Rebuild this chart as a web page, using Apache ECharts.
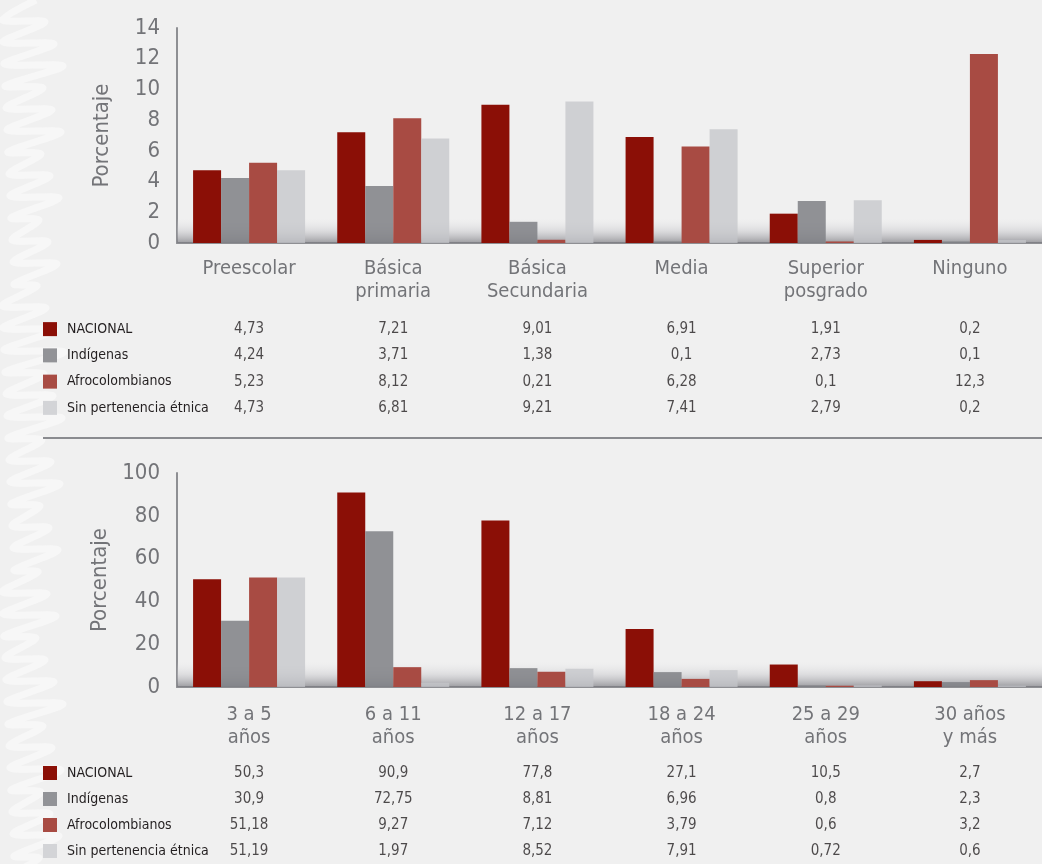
<!DOCTYPE html>
<html>
<head>
<meta charset="utf-8">
<script src="https://cdn.jsdelivr.net/npm/echarts@6/dist/echarts.min.js"></script>
<style>
  html, body { margin: 0; padding: 0; background: #f0f0f0; }
  #chart { width: 1042px; height: 864px; }
</style>
</head>
<body>
<div id="chart"></div>
<script>
// categorias y grupos
const eduCategories = ["Preescolar", "Básica\nprimaria", "Básica\nSecundaria", "Media", "Superior\nposgrado", "Ninguno"];
const ageCategories = ["3 a 5\naños", "6 a 11\naños", "12 a 17\naños", "18 a 24\naños", "25 a 29\naños", "30 años\ny más"];
const groups = ["NACIONAL", "Indígenas", "Afrocolombianos", "Sin pertenencia étnica"];

// nivel educativo (%)
const eduNacional = [4.73, 7.21, 9.01, 6.91, 1.91, 0.2];
const eduIndigenas = [4.24, 3.71, 1.38, 0.1, 2.73, 0.1];
const eduAfro = [5.23, 8.12, 0.21, 6.28, 0.1, 12.3];
const eduSin = [4.73, 6.81, 9.21, 7.41, 2.79, 0.2];

// grupos de edad (%)
const ageNacional = [50.3, 90.9, 77.8, 27.1, 10.5, 2.7];
const ageIndigenas = [30.9, 72.75, 8.81, 6.96, 0.8, 2.3];
const ageAfro = [51.18, 9.27, 7.12, 3.79, 0.6, 3.2];
const ageSin = [51.19, 1.97, 8.52, 7.91, 0.72, 0.6];

const eduData = [eduNacional, eduIndigenas, eduAfro, eduSin];
const ageData = [ageNacional, ageIndigenas, ageAfro, ageSin];

const FONT = '"Liberation Sans Narrow", "DejaVu Sans Condensed", sans-serif';
const swatch = ["#8b0f06", "#929397", "#a84b43", "#d3d4d7"];
// gray bars slightly see-through so the base band shows on them
const barFill = ["#8b0f06", "rgba(128,129,134,0.86)", "#a84b43", "rgba(196,197,201,0.75)"];
const axisGray = "#8e8f93";
const labelGray = "#737478";

const chart = echarts.init(document.getElementById("chart"));

const fmt = (v) => String(v).replace(".", ",");

function barSeries(data, xi, bandTop) {
  const out = [];
  // base shading band
  out.push({
    type: "line",
    xAxisIndex: xi,
    yAxisIndex: xi,
    data: [],
    z: 1,
    silent: true,
    markArea: {
      silent: true,
      itemStyle: {
        color: new echarts.graphic.LinearGradient(0, 0, 0, 1, [
          { offset: 0, color: "rgba(225,225,228,0)" },
          { offset: 0.5, color: "rgba(190,190,195,0.4)" },
          { offset: 1, color: "rgba(120,120,126,0.7)" },
        ]),
      },
      data: [[{ yAxis: 0 }, { yAxis: bandTop }]],
    },
  });
  data.forEach((vals, i) => {
    out.push({
      name: groups[i],
      type: "bar",
      xAxisIndex: xi,
      yAxisIndex: xi,
      data: vals,
      barWidth: 28,
      barGap: "0%",
      z: 2,
      itemStyle: { color: barFill[i] },
    });
  });
  return out;
}

function tableSeries(data, xi) {
  const cells = [];
  data.forEach((vals, r) => vals.forEach((v, c) => cells.push([c, r, v])));
  return {
    type: "scatter",
    xAxisIndex: xi,
    yAxisIndex: xi,
    symbolSize: 1,
    itemStyle: { color: "rgba(0,0,0,0)" },
    silent: true,
    data: cells,
    label: {
      show: true,
      position: "inside",
      fontFamily: FONT,
      fontSize: 15,
      color: "#231f20",
      formatter: (p) => fmt(p.value[2]),
    },
  };
}

const rich = { t: { fontFamily: FONT, fontSize: 14, color: "#231f20", padding: [0, 0, 0, 10] } };
swatch.forEach((c, i) => {
  rich["s" + i] = { width: 14, height: 14, backgroundColor: c };
});

function tableY() {
  return {
    type: "category",
    data: groups,
    inverse: true,
    axisLine: { show: false },
    axisTick: { show: false },
    axisLabel: {
      align: "left",
      margin: 134,
      formatter: (v, i) => `{s${i}|}{t|${v}}`,
      rich: rich,
    },
  };
}

function hiddenX(cats) {
  return { type: "category", data: cats, show: false };
}

function barX(cats, margin) {
  return {
    type: "category",
    data: cats,
    axisLine: { lineStyle: { color: axisGray, width: 2 } },
    axisTick: { show: false },
    axisLabel: {
      margin: margin,
      fontFamily: FONT,
      fontSize: 20,
      lineHeight: 23,
      color: labelGray,
      interval: 0,
    },
  };
}

function barY(max, interval) {
  return {
    type: "value",
    min: 0,
    max: max,
    interval: interval,
    name: "Porcentaje",
    nameLocation: "middle",
    nameRotate: 90,
    nameGap: 64,
    nameTextStyle: { fontFamily: FONT, fontSize: 22, color: labelGray },
    splitLine: { show: false },
    axisTick: { show: false },
    axisLine: { show: true, lineStyle: { color: axisGray, width: 2 } },
    axisLabel: { margin: 17, fontFamily: FONT, fontSize: 22, color: labelGray },
  };
}

// soft scribble strokes along the left edge (background texture)
const scribble = [];
for (let y = 0; y < 880; y += 22) {
  scribble.push([50 + ((y * 7) % 29) - 14, y], [2 + ((y * 3) % 13), y + 20]);
}

const option = {
  backgroundColor: "#f0f0f0",
  animation: false,
  grid: [
    { left: 177, top: 28, width: 900, height: 215 },
    { left: 177, top: 316, width: 900, height: 105 },
    { left: 177, top: 473, width: 900, height: 214 },
    { left: 177, top: 760, width: 900, height: 105 },
  ],
  xAxis: [
    barX(eduCategories, 14),
    Object.assign(hiddenX(eduCategories), { gridIndex: 1 }),
    Object.assign(barX(ageCategories, 16), { gridIndex: 2 }),
    Object.assign(hiddenX(ageCategories), { gridIndex: 3 }),
  ],
  yAxis: [
    barY(14, 2),
    Object.assign(tableY(), { gridIndex: 1 }),
    Object.assign(barY(100, 20), { gridIndex: 2 }),
    Object.assign(tableY(), { gridIndex: 3 }),
  ],
  graphic: [
    {
      type: "polyline",
      z: -9,
      shape: { points: scribble, smooth: 0.3 },
      style: { stroke: "#f7f7f7", lineWidth: 7, lineJoin: "round", fill: null },
    },
    {
      type: "line",
      shape: { x1: 43, y1: 438, x2: 1042, y2: 438 },
      style: { stroke: "#8a8b8f", lineWidth: 2 },
    },
  ],
  series: [
    ...barSeries(eduData, 0, 1.6),
    tableSeries(eduData, 1),
    ...barSeries(ageData, 2, 11.7),
    tableSeries(ageData, 3),
  ],
};

chart.setOption(option);
</script>
</body>
</html>
